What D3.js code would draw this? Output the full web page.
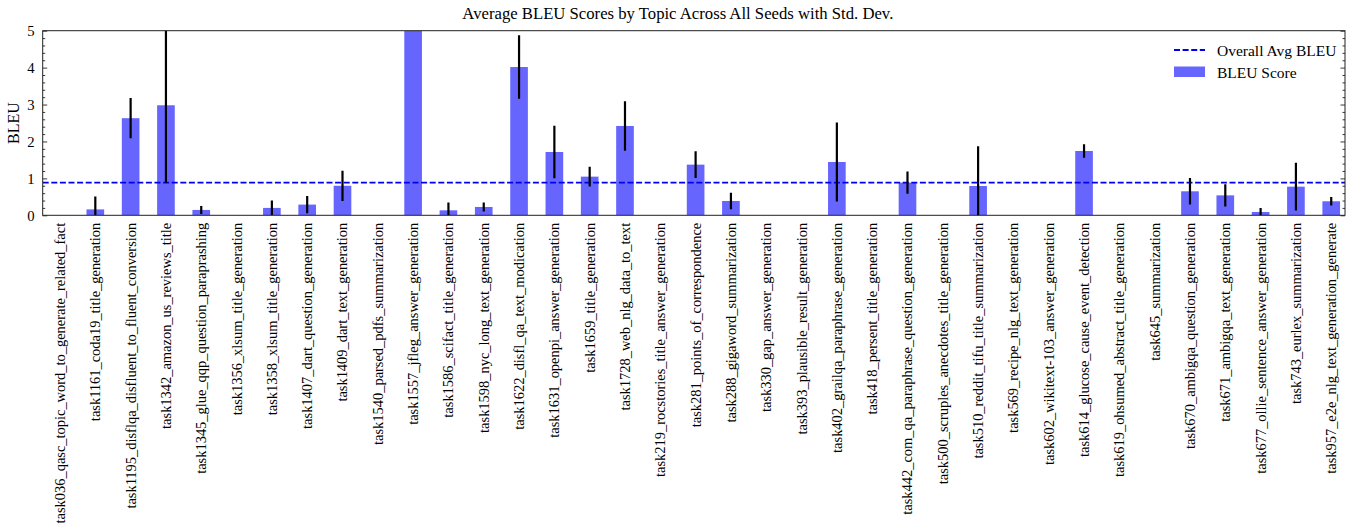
<!DOCTYPE html>
<html><head><meta charset="utf-8">
<script src="https://cdn.jsdelivr.net/npm/d3@7"></script>
<style>body{margin:0;background:#fff}svg{display:block}text{font-family:"Liberation Serif","DejaVu Serif",serif;fill:#000}</style>
</head><body>
<svg id="c" width="1356" height="531"></svg>
<script>
const categories = ["task036_qasc_topic_word_to_generate_related_fact","task1161_coda19_title_generation","task1195_disflqa_disfluent_to_fluent_conversion","task1342_amazon_us_reviews_title","task1345_glue_qqp_question_paraprashing","task1356_xlsum_title_generation","task1358_xlsum_title_generation","task1407_dart_question_generation","task1409_dart_text_generation","task1540_parsed_pdfs_summarization","task1557_jfleg_answer_generation","task1586_scifact_title_generation","task1598_nyc_long_text_generation","task1622_disfl_qa_text_modication","task1631_openpi_answer_generation","task1659_title_generation","task1728_web_nlg_data_to_text","task219_rocstories_title_answer_generation","task281_points_of_correspondence","task288_gigaword_summarization","task330_gap_answer_generation","task393_plausible_result_generation","task402_grailqa_paraphrase_generation","task418_persent_title_generation","task442_com_qa_paraphrase_question_generation","task500_scruples_anecdotes_title_generation","task510_reddit_tifu_title_summarization","task569_recipe_nlg_text_generation","task602_wikitext-103_answer_generation","task614_glucose_cause_event_detection","task619_ohsumed_abstract_title_generation","task645_summarization","task670_ambigqa_question_generation","task671_ambigqa_text_generation","task677_ollie_sentence_answer_generation","task743_eurlex_summarization","task957_e2e_nlg_text_generation_generate"];
const bleuMean = [0,0.16,2.63,2.98,0.145,0,0.2,0.29,0.80,0,5.6,0.135,0.226,4.016,1.715,1.047,2.42,0,1.372,0.388,0,0,1.444,0,0.885,0,0.794,0,0,1.742,0,0,0.65,0.54,0.09,0.776,0.38];
const bleuStd = [0,0.35,0.545,2.095,0.11,0,0.2,0.235,0.41,0,0.5,0.215,0.12,0.86,0.71,0.265,0.67,0,0.365,0.226,0,0,1.07,0,0.3,0,1.075,0,0,0.185,0,0,0.36,0.3,0.11,0.645,0.113];
const overallAvg = 0.885;
const yTicks = [0,1,2,3,4,5];
const titleText = "Average BLEU Scores by Topic Across All Seeds with Std. Dev.";
const yLabel = "BLEU";
const legendLabels = ["Overall Avg BLEU","BLEU Score"];

const svg = d3.select("#c");
const L = 42.7, R = 1345, T = 30.7, B = 215.3;
const x = d3.scaleLinear().domain([-0.49, 36.39]).range([L, R]);
const y = d3.scaleLinear().domain([0, 5]).range([B, T]);
const barW = x(0.5) - x(0);
const barColor = "#6666ff", lineColor = "#0000ee";
const rows = categories.map((c,i)=>({c, i, m: bleuMean[i], s: bleuStd[i]}));

svg.append("defs").append("clipPath").attr("id","clip")
  .append("rect").attr("x",L).attr("y",T).attr("width",R-L).attr("height",B-T);

const plot = svg.append("g").attr("clip-path","url(#clip)");
plot.selectAll("rect.bar").data(rows).join("rect").attr("class","bar")
  .attr("x",d=>x(d.i)-barW/2).attr("width",barW)
  .attr("y",d=>y(Math.max(0,d.m))).attr("height",d=>B-y(Math.max(0,d.m)))
  .attr("fill",barColor);
plot.append("line").attr("x1",L).attr("x2",R).attr("y1",y(overallAvg)).attr("y2",y(overallAvg))
  .attr("stroke",lineColor).attr("stroke-width",1.8).attr("stroke-dasharray","6,2.6");
plot.selectAll("line.err").data(rows.filter(d=>d.s>0)).join("line").attr("class","err")
  .attr("x1",d=>x(d.i)).attr("x2",d=>x(d.i))
  .attr("y1",d=>y(d.m-d.s)).attr("y2",d=>y(d.m+d.s))
  .attr("stroke","#000").attr("stroke-width",2.2);

// frame
svg.append("rect").attr("x",L).attr("y",T).attr("width",R-L).attr("height",B-T)
  .attr("fill","none").attr("stroke","#222").attr("stroke-width",1);

// y axes
const fs = 14.45;
const yAxisL = d3.axisLeft(y).tickValues(yTicks).tickFormat(d3.format("d")).tickSizeInner(-4.5).tickSizeOuter(0).tickPadding(8);
const gL = svg.append("g").attr("transform",`translate(${L},0)`).call(yAxisL);
gL.select(".domain").remove();
gL.selectAll("text").style("font-size","14.7px").style("font-family",'"Liberation Serif",serif');
const minorTicks = d3.range(0,5.01,0.2).filter(v=>Math.abs(v-Math.round(v))>1e-6);
const gLm = svg.append("g").attr("transform",`translate(${L},0)`).call(d3.axisLeft(y).tickValues(minorTicks).tickSizeInner(-2.5).tickSizeOuter(0).tickFormat(""));
gLm.select(".domain").remove();
const gR = svg.append("g").attr("transform",`translate(${R},0)`).call(d3.axisRight(y).tickValues(yTicks).tickSizeInner(-4.5).tickSizeOuter(0).tickFormat(""));
gR.select(".domain").remove();
const gRm = svg.append("g").attr("transform",`translate(${R},0)`).call(d3.axisRight(y).tickValues(minorTicks).tickSizeInner(-2.5).tickSizeOuter(0).tickFormat(""));
gRm.select(".domain").remove();
svg.selectAll(".tick line").attr("stroke","#222").attr("stroke-width",0.9);

// x labels
svg.append("g").selectAll("text").data(categories).join("text")
  .attr("transform",(d,i)=>`translate(${x(i)+5},${B+7.5}) rotate(-90)`)
  .attr("text-anchor","end").style("font-size",fs+"px").text(d=>d);

// y label
svg.append("text").attr("transform",`translate(19,${(T+B)/2}) rotate(-90)`)
  .attr("text-anchor","middle").style("font-size","16px").text(yLabel);

// title
svg.append("text").attr("x",(L+R)/2 - 16).attr("y",19).attr("text-anchor","middle")
  .style("font-size","16.7px").text(titleText);

// legend
const lg = svg.append("g");
lg.append("line").attr("x1",1174).attr("x2",1205).attr("y1",50).attr("y2",50)
  .attr("stroke",lineColor).attr("stroke-width",1.8).attr("stroke-dasharray","6,2.6");
lg.append("text").attr("x",1217).attr("y",55.5).style("font-size","15.5px").text(legendLabels[0]);
lg.append("rect").attr("x",1174).attr("y",66.5).attr("width",31).attr("height",10.5).attr("fill",barColor);
lg.append("text").attr("x",1217).attr("y",77.5).style("font-size","15.5px").text(legendLabels[1]);
</script>
</body></html>
